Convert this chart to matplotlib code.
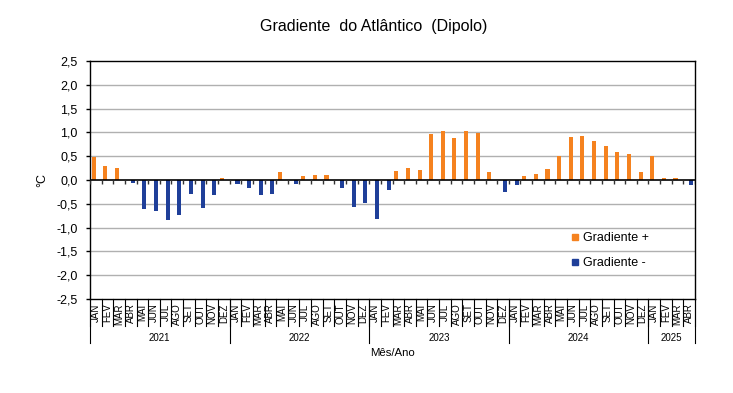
import numpy as np
import matplotlib
matplotlib.use("Agg")
import matplotlib.pyplot as plt
from matplotlib.lines import Line2D
from matplotlib.transforms import blended_transform_factory

plt.rcParams['font.family'] = ['Liberation Sans', 'DejaVu Sans']

months = ["JAN", "FEV", "MAR", "ABR", "MAI", "JUN", "JUL", "AGO", "SET", "OUT", "NOV", "DEZ"]
years = ["2021", "2022", "2023", "2024", "2025"]
v2021 = [0.49, 0.30, 0.26, -0.07, -0.61, -0.65, -0.84, -0.74, -0.30, -0.59, -0.32, 0.05]
v2022 = [-0.09, -0.17, -0.32, -0.30, 0.17, -0.09, 0.09, 0.11, 0.11, -0.17, -0.56, -0.49]
v2023 = [-0.81, -0.22, 0.19, 0.26, 0.22, 0.97, 1.03, 0.88, 1.03, 0.99, 0.17, -0.26]
v2024 = [-0.10, 0.09, 0.13, 0.24, 0.51, 0.90, 0.92, 0.82, 0.72, 0.59, 0.55, 0.17]
v2025 = [0.51, 0.05, 0.05, -0.11]
yearly = [v2021, v2022, v2023, v2024, v2025]
yticks = [-2.5, -2.0, -1.5, -1.0, -0.5, 0.0, 0.5, 1.0, 1.5, 2.0, 2.5]

orange = '#F5821F'
blue = '#1F3F99'

values = np.array(sum(yearly, []), dtype=float)
labels = [months[i % 12] for i in range(len(values))]
x = np.arange(len(values))
pos = np.where(values > 0, values, np.nan)
neg = np.where(values < 0, values, np.nan)

W, H = 733, 393
fig = plt.figure(figsize=(W / 100, H / 100), dpi=100)
ax = fig.add_axes([90 / W, 1 - 299 / H, (695 - 90) / W, (299 - 61) / H])

bw = 0.35
ax.bar(x - 0.175, pos, width=bw, color=orange, zorder=3)
ax.bar(x + 0.175, neg, width=bw, color=blue, zorder=3)

ax.set_xlim(-0.5, len(values) - 0.5)
ax.set_ylim(-2.5, 2.5)
ax.set_yticks(yticks)
ax.set_yticklabels([f"{t:.1f}".replace('.', ',') for t in yticks], fontsize=9)
ax.tick_params(axis='y', length=3, width=1, pad=6, colors='black')
ax.set_xticks([])
for t in yticks[1:-1]:
    if t != 0:
        ax.axhline(t, color='#B0B0B0', lw=1, zorder=1)
ax.axhline(0, color='black', lw=1.2, zorder=4)
for s in ax.spines.values():
    s.set_color('black')
    s.set_linewidth(1)

# tick marks on zero line at category boundaries
bounds = np.arange(len(values) + 1) - 0.5
ax.vlines(bounds, -0.075, 0, color='#333333', lw=1, zorder=4)

# category axis labels below
tr = blended_transform_factory(ax.transData, fig.transFigure)
y_axis = 1 - 299 / H
y_month = 1 - 326 / H
y_year = 1 - 343 / H
for b in bounds:
    ax.plot([b, b], [y_axis, y_month], transform=tr, color='black', lw=0.8, clip_on=False)
for i, lab in enumerate(labels):
    ax.text(i, 1 - 303.5 / H, lab, transform=tr, rotation=90, ha='center', va='top', fontsize=7)
start = 0
for yr, vals in zip(years, yearly):
    end = start + len(vals)
    ax.plot([start - 0.5, start - 0.5], [y_axis, y_year], transform=tr, color='black', lw=0.8, clip_on=False)
    ax.text((start + end - 1) / 2, 1 - 338 / H, yr, transform=tr, ha='center', va='center', fontsize=7)
    start = end
ax.plot([start - 0.5, start - 0.5], [y_axis, y_year], transform=tr, color='black', lw=0.8, clip_on=False)

fig.text(392.5 / W, 1 - 353 / H, "Mês/Ano", ha='center', va='center', fontsize=8.2)
fig.text(42 / W, 1 - 180 / H, "°C", rotation=90, ha='center', va='center', fontsize=9)
fig.text(374 / W, 1 - 27 / H, "Gradiente  do Atlântico  (Dipolo)", ha='center', va='center', fontsize=11.5)

handles = [Line2D([], [], marker='s', color=orange, linestyle='none', markersize=4.5),
           Line2D([], [], marker='s', color=blue, linestyle='none', markersize=4.5)]
fig.legend(handles, ["Gradiente +", "Gradiente -"], loc='upper left',
           bbox_to_anchor=(572 / W, 1 - 232 / H), frameon=False, fontsize=9,
           handlelength=0.5, handletextpad=0.35, labelspacing=1.05,
           borderpad=0, borderaxespad=0)

fig.savefig("out.png", dpi=100)
